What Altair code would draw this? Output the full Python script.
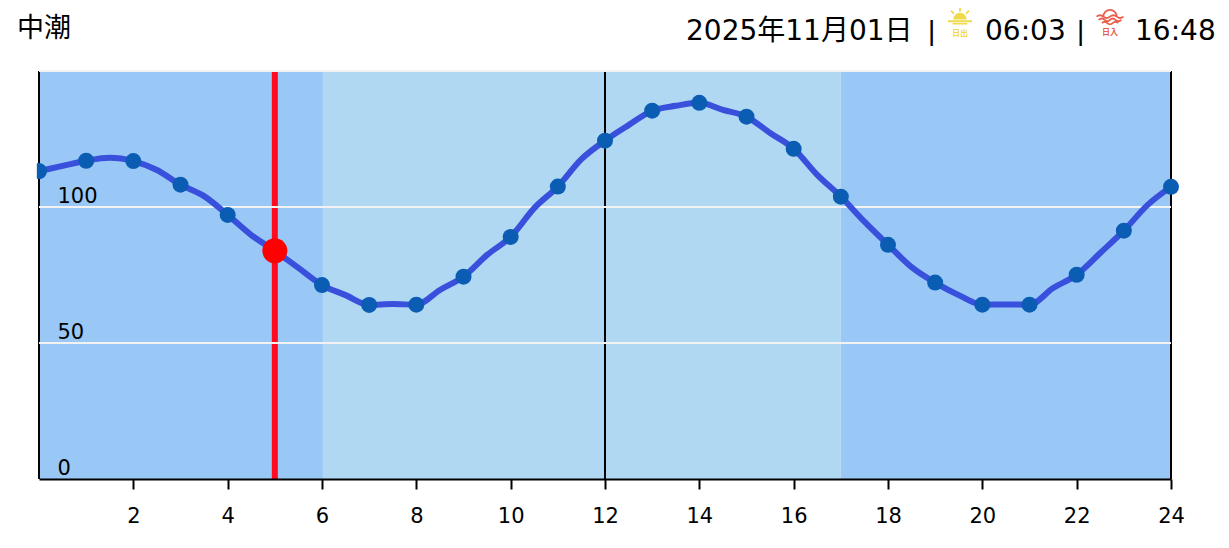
import altair as alt
import pandas as pd

hours = [i / 2 for i in range(49)]
tide = [113.2, 115.1, 117.0, 118.1, 116.9, 113.6, 108.2, 104.0, 97.1, 89.7, 83.9, 77.6,
        71.3, 67.6, 64.0, 64.3, 64.1, 69.5, 74.4, 82.4, 89.0, 99.6, 107.5, 117.6,
        124.4, 130.1, 135.4, 137.2, 138.3, 135.7, 133.2, 127.2, 121.4, 111.8,
        103.8, 94.6, 86.1, 77.9, 72.2, 67.6, 64.1, 64.2, 64.1, 70.2, 75.1, 83.1,
        91.3, 100.7, 107.4]
band_start = [0, 6.02, 17]
band_end = [6.02, 17, 24]
band_color = ["#99C8F7", "#B0D8F2", "#99C8F7"]
grid_values = [50, 100, 150]
black_rules = [0, 12, 24]
now_hour = [5]
now_tide = [83.9]
x_ticks = list(range(2, 25, 2))
y_ticks = [0, 50, 100]

LINE = "#3850DC"
DOT = "#0B5DB3"
RED = "#FF0A20"
CJK = "Noto Sans CJK JP"
SUN = "#F0D94A"
SET = "#E8604C"

df = pd.DataFrame({"hour": hours, "tide": tide})
bands = pd.DataFrame({"start": band_start, "end": band_end, "color": band_color})

x_axis = alt.Axis(values=x_ticks, format="d", grid=False, domainColor="#000", domainWidth=2,
                  tickColor="#000", tickWidth=2, tickSize=10, labelPadding=16, labelFontSize=21,
                  labelFont="DejaVu Sans", labelColor="#000", labelAngle=0, zindex=1,
                  labelFlush=False, labelOverlap=False, labelBound=False)
x_scale = alt.Scale(domain=[0, 24], nice=False, zero=False)
x_enc = alt.X("hour:Q", title=None, scale=x_scale, axis=x_axis)
y_enc = alt.Y("tide:Q", title=None, scale=alt.Scale(domain=[0, 150], nice=False, zero=True),
              axis=alt.Axis(values=y_ticks, format="d", grid=False, domain=False,
                            ticks=False, labelPadding=-18, labelAlign="left", labelBaseline="alphabetic",
                            labelOffset=-5, labelFontSize=21, labelFont="DejaVu Sans", labelColor="#000",
                            zindex=1, labelFlush=False, labelOverlap=False, labelBound=False))
x_band = alt.X("start:Q", title=None, scale=x_scale, axis=x_axis)

layers = [
    alt.Chart(bands).mark_rect(strokeWidth=0).encode(
        x=x_band, x2="end:Q", color=alt.Color("color:N", scale=None)),
    alt.Chart(pd.DataFrame({"hour": black_rules})).mark_rule(color="#000", strokeWidth=2).encode(x=x_enc),
    alt.Chart(pd.DataFrame({"hour": now_hour})).mark_rule(color=RED, strokeWidth=6).encode(x=x_enc),
    alt.Chart(pd.DataFrame({"tide": grid_values})).mark_rule(color="#F2F2F2", strokeWidth=2).encode(y=y_enc),
    alt.Chart(df).mark_line(color=LINE, strokeWidth=6, interpolate="monotone").encode(x=x_enc, y=y_enc),
    alt.Chart(df).transform_filter("datum.hour > 0 && datum.hour % 1 === 0").mark_point(
        filled=True, color=DOT, opacity=1, size=256, shape="circle").encode(x=x_enc, y=y_enc),
    alt.Chart(df).transform_filter("datum.hour === 0").mark_point(
        filled=True, color=DOT, opacity=1, size=256,
        shape="M-0.27,-0.963 A1,1 0 1 1 -0.27,0.963 Z").encode(x=x_enc, y=y_enc),
    alt.Chart(pd.DataFrame({"hour": now_hour, "tide": now_tide})).mark_point(
        filled=True, color="#FF0000", opacity=1, size=625, shape="circle").encode(x=x_enc, y=y_enc),
]

# Header, positioned in pixels from the plot origin at page (39, 71)
OX, OY = 39, 71
HEAD = "DejaVu Sans, " + CJK
header = [
    ("中潮", 17, 29, 27, CJK, "#000", "normal"),
    ("2025年11月01日", 686, 32, 28, HEAD, "#000", "normal"),
    ("|", 928, 32, 28, "Liberation Sans", "#000", "normal"),
    ("06:03", 985, 32, 28, HEAD, "#000", "normal"),
    ("|", 1077, 32, 28, "Liberation Sans", "#000", "normal"),
    ("16:48", 1135, 32, 28, HEAD, "#000", "normal"),
    ("日出", 952, 33.5, 8, CJK, SUN, "bold"),
    ("日入", 1102, 32.5, 8, CJK, SET, "bold"),
]
for label, px, py, fs, font, col, weight in header:
    layers.append(
        alt.Chart(pd.DataFrame({"label": [label]})).mark_text(
            align="left", baseline="middle", fontSize=fs, font=font, color=col, fontWeight=weight
        ).encode(x=alt.value(px - OX), y=alt.value(py - OY), text="label:N")
    )

sun_path = ("M-0.55,-0.05 A0.55,0.55 0 0 1 0.55,-0.05 Z "
            "M-1,0.02 L1,0.02 L1,0.18 L-1,0.18 Z "
            "M-0.62,0.26 L0.62,0.26 L0.62,0.38 L-0.62,0.38 Z "
            "M-0.08,-1 L0.08,-1 L0.08,-0.7 L-0.08,-0.7 Z "
            "M-0.8,-0.72 L-0.7,-0.84 L-0.46,-0.58 L-0.56,-0.46 Z "
            "M0.8,-0.72 L0.7,-0.84 L0.46,-0.58 L0.56,-0.46 Z")
set_path = ("M-0.5,-0.1 A0.5,0.5 0 0 1 0.5,-0.1 "
            "M-1,-0.1 Q-0.75,-0.3 -0.5,-0.1 T0,-0.1 T0.5,-0.1 T1,-0.1 "
            "M-0.85,0.14 Q-0.6,-0.06 -0.4,0.14 T0,0.14 T0.4,0.14 T0.85,0.14 "
            "M-0.6,0.38 Q-0.4,0.2 -0.2,0.38 T0.2,0.38 T0.6,0.38")

layers.append(alt.Chart(pd.DataFrame({"i": [0]})).mark_point(
    shape=sun_path, filled=True, color=SUN, opacity=1, size=576
).encode(x=alt.value(960 - OX), y=alt.value(20 - OY)))
layers.append(alt.Chart(pd.DataFrame({"i": [0]})).mark_point(
    shape=set_path, filled=False, color=SET, opacity=1, size=729, strokeWidth=1.8
).encode(x=alt.value(1110 - OX), y=alt.value(18 - OY)))

chart = alt.layer(*layers).properties(
    width=1132, height=408, autosize="none",
    padding={"left": 31, "top": 63, "right": 50, "bottom": 50},
    background="white",
).configure_view(stroke=None)

chart.save("out.html", embed_options={"renderer": "svg", "actions": False})
